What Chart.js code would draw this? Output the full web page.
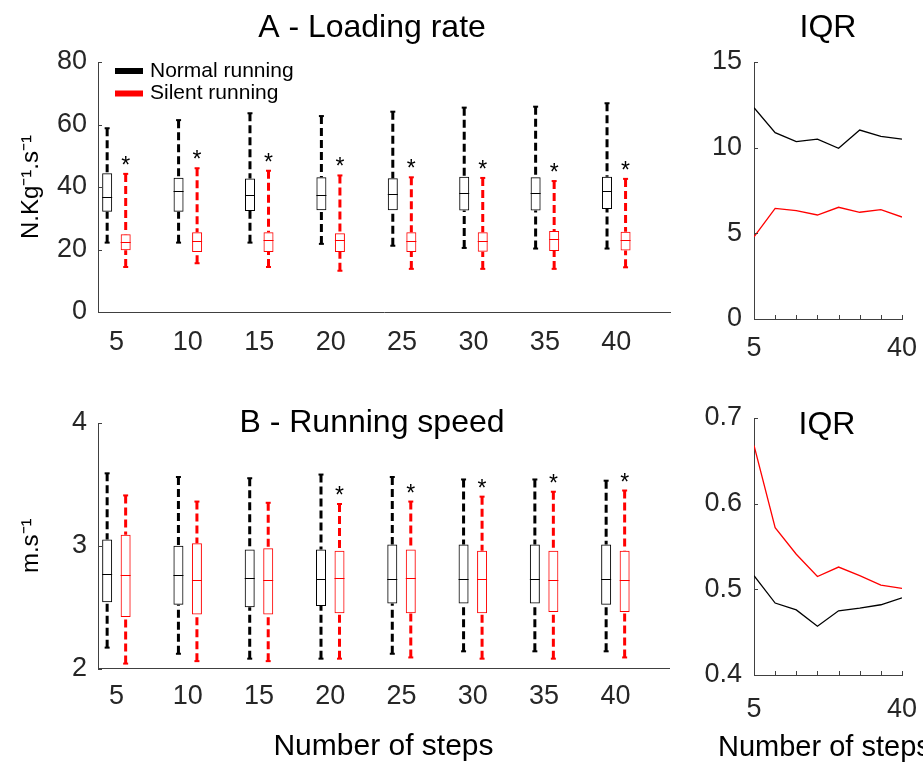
<!DOCTYPE html>
<html>
<head>
<meta charset="utf-8">
<script src="https://cdn.jsdelivr.net/npm/chart.js@4.4.0/dist/chart.umd.min.js"></script>
<style>
  body { margin: 0; background: #fff; }
  #wrap { position: relative; width: 923px; height: 767px; overflow: hidden; background: #fff; }
  canvas { position: absolute; }
</style>
</head>
<body>
<div id="wrap">
  <canvas id="loadBox" width="690" height="375" style="left:0;top:0"></canvas>
  <canvas id="loadIqr" width="260" height="375" style="left:690px;top:0"></canvas>
  <canvas id="speedBox" width="690" height="392" style="left:0;top:375px"></canvas>
  <canvas id="speedIqr" width="260" height="392" style="left:690px;top:375px"></canvas>
</div>
<script>
const steps = [5, 10, 15, 20, 25, 30, 35, 40];

// loading rate (N.Kg-1.s-1): whisker ends, quartiles, median
const normLoadMin = [22.2, 22.2, 22.2, 21.8, 21.2, 20.5, 20.3, 20.3];
const normLoadQ1  = [32.1, 32.1, 32.3, 32.6, 32.6, 32.5, 32.5, 33.0];
const normLoadMed = [36.7, 38.8, 37.4, 37.4, 37.7, 38.0, 38.2, 38.7];
const normLoadQ3  = [44.4, 43.0, 42.7, 43.1, 42.8, 43.3, 43.1, 43.3];
const normLoadMax = [58.8, 61.4, 63.6, 62.7, 64.1, 65.4, 65.7, 66.8];

const silLoadMin = [14.4, 15.6, 14.4, 13.2, 13.8, 13.8, 13.8, 14.3];
const silLoadQ1  = [19.8, 19.2, 19.2, 19.2, 19.2, 19.3, 19.5, 19.7];
const silLoadMed = [22.3, 22.7, 23.0, 23.0, 22.7, 22.8, 23.3, 23.0];
const silLoadQ3  = [24.9, 25.5, 25.5, 25.2, 25.5, 25.5, 25.9, 25.7];
const silLoadMax = [44.2, 46.0, 45.2, 43.7, 43.1, 42.9, 41.9, 42.6];
const sigLoad    = [1, 1, 1, 1, 1, 1, 1, 1];

// running speed (m.s-1)
const normSpdMin = [2.17, 2.12, 2.08, 2.08, 2.12, 2.14, 2.14, 2.14];
const normSpdQ1  = [2.54, 2.52, 2.50, 2.51, 2.53, 2.53, 2.53, 2.52];
const normSpdMed = [2.77, 2.76, 2.74, 2.73, 2.73, 2.73, 2.73, 2.73];
const normSpdQ3  = [3.05, 3.00, 2.97, 2.97, 3.01, 3.01, 3.01, 3.01];
const normSpdMax = [3.59, 3.56, 3.55, 3.58, 3.56, 3.54, 3.54, 3.53];

const silSpdMin = [2.04, 2.06, 2.06, 2.08, 2.09, 2.08, 2.08, 2.09];
const silSpdQ1  = [2.42, 2.44, 2.44, 2.45, 2.45, 2.45, 2.46, 2.46];
const silSpdMed = [2.76, 2.72, 2.72, 2.74, 2.74, 2.73, 2.72, 2.72];
const silSpdQ3  = [3.09, 3.02, 2.98, 2.96, 2.97, 2.96, 2.96, 2.96];
const silSpdMax = [3.41, 3.36, 3.35, 3.34, 3.36, 3.40, 3.44, 3.45];
const sigSpd    = [0, 0, 0, 1, 1, 1, 1, 1];

// interquartile ranges
const normLoadIqr = [12.33, 10.88, 10.35, 10.5, 9.96, 11.03, 10.66, 10.5];
const silLoadIqr  = [4.8, 6.46, 6.32, 6.07, 6.52, 6.23, 6.38, 5.95];
const normSpdIqr  = [0.516, 0.484, 0.476, 0.457, 0.475, 0.478, 0.482, 0.490];
const silSpdIqr   = [0.668, 0.572, 0.541, 0.515, 0.526, 0.516, 0.505, 0.501];

const FONT = "'Liberation Sans', Arial, sans-serif";
const axisColor = '#404040';
const BLACK = '#000000', RED = '#ff0000';
const TICK = 27;

Chart.defaults.font.family = FONT;
Chart.defaults.color = '#262626';
Chart.defaults.animation = false;
Chart.defaults.responsive = false;
Chart.defaults.plugins.legend.display = false;
Chart.defaults.plugins.tooltip.enabled = false;

function line(ctx, x1, y1, x2, y2) {
  ctx.beginPath(); ctx.moveTo(x1, y1); ctx.lineTo(x2, y2); ctx.stroke();
}

// whiskers, medians and significance stars around the floating bars
const boxPlot = {
  id: 'boxPlot',
  beforeDatasetsDraw(chart) {
    const ctx = chart.ctx, ys = chart.scales.y;
    chart.data.datasets.forEach((ds, i) => {
      chart.getDatasetMeta(i).data.forEach((bar, j) => {
        const x = bar.x;
        const top = ys.getPixelForValue(ds.hi[j]), q3 = ys.getPixelForValue(ds.data[j].y[1]);
        const bot = ys.getPixelForValue(ds.lo[j]), q1 = ys.getPixelForValue(ds.data[j].y[0]);
        ctx.save();
        ctx.strokeStyle = ds.borderColor;
        ctx.lineWidth = 3;
        ctx.setLineDash([8, 4]);
        line(ctx, x, top, x, q3);
        line(ctx, x, bot, x, q1);
        ctx.setLineDash([]);
        ctx.lineWidth = 2;
        line(ctx, x - 2.5, top, x + 2.5, top);
        line(ctx, x - 2.5, bot, x + 2.5, bot);
        ctx.restore();
      });
    });
  },
  afterDatasetsDraw(chart) {
    const ctx = chart.ctx, ys = chart.scales.y;
    chart.data.datasets.forEach((ds, i) => {
      chart.getDatasetMeta(i).data.forEach((bar, j) => {
        const m = Math.round(ys.getPixelForValue(ds.med[j])) + 0.5;
        ctx.save();
        ctx.strokeStyle = ds.borderColor;
        ctx.lineWidth = 1;
        line(ctx, bar.x - bar.width / 2, m, bar.x + bar.width / 2, m);
        if (ds.sig && ds.sig[j]) {
          ctx.fillStyle = '#000';
          ctx.font = '23px ' + FONT;
          ctx.textAlign = 'center';
          ctx.textBaseline = 'alphabetic';
          ctx.fillText('*', bar.x, ys.getPixelForValue(ds.hi[j]) - 1);
        }
        ctx.restore();
      });
    });
  }
};

// legend inside the axes, like matlab
const boxLegend = {
  id: 'boxLegend',
  afterDraw(chart) {
    const ctx = chart.ctx, a = chart.chartArea;
    chart.data.datasets.forEach((ds, i) => {
      const cy = a.top + 9 + i * 22.5;
      ctx.save();
      ctx.fillStyle = ds.borderColor;
      ctx.fillRect(a.left + 17, cy - 3, 28, 6);
      ctx.fillStyle = '#000';
      ctx.font = '21px ' + FONT;
      ctx.textBaseline = 'middle';
      ctx.fillText(ds.label, a.left + 52, cy);
      ctx.restore();
    });
  }
};

// short tick marks pointing into the axes
const inTicks = {
  id: 'inTicks',
  afterDraw(chart, args, opts) {
    const ctx = chart.ctx, a = chart.chartArea;
    ctx.save();
    ctx.strokeStyle = axisColor;
    ctx.lineWidth = 1;
    if (opts.y) {
      const s = chart.scales.y;
      s.ticks.forEach(t => {
        const p = Math.round(s.getPixelForValue(t.value)) + 0.5;
        line(ctx, a.left, p, a.left + 4, p);
      });
    }
    if (opts.x) {
      const s = chart.scales.x;
      s.ticks.forEach(t => {
        const p = Math.round(s.getPixelForValue(t.value)) + 0.5;
        line(ctx, p, a.bottom, p, a.bottom - 4);
      });
    }
    ctx.restore();
  }
};

function texts(items) {
  return {
    id: 'texts',
    afterDraw(chart) {
      const ctx = chart.ctx;
      items.forEach(t => {
        ctx.save();
        ctx.fillStyle = '#000';
        ctx.font = t.size + 'px ' + FONT;
        ctx.textAlign = t.align || 'center';
        ctx.textBaseline = 'alphabetic';
        ctx.fillText(t.text, t.x, t.y);
        ctx.restore();
      });
    }
  };
}

function boxSet(label, color, lo, q1, med, q3, hi, sig) {
  return {
    label: label,
    data: steps.map((s, i) => ({ x: s, y: [q1[i], q3[i]] })),
    lo: lo, hi: hi, med: med, sig: sig,
    borderColor: color,
    backgroundColor: 'rgba(255,255,255,0)',
    borderWidth: 1,
    borderSkipped: false,
    categoryPercentage: 0.519,
    barPercentage: 0.54
  };
}

function boxChart(id, sets, o) {
  return new Chart(document.getElementById(id), {
    type: 'bar',
    data: { datasets: sets },
    options: {
      layout: { padding: o.pad },
      scales: {
        x: {
          type: 'linear', min: 3.71, max: 43.76, offset: false,
          afterBuildTicks: s => { s.ticks = steps.map(v => ({ value: v })); },
          afterFit: s => { s.height = o.xHeight; },
          grid: { drawOnChartArea: false, drawTicks: false, offset: false },
          border: { color: axisColor, width: 1 },
          ticks: { font: { size: TICK }, padding: o.xPad, autoSkip: false, maxRotation: 0 },
          title: o.xTitle || { display: false }
        },
        y: {
          min: o.yMin, max: o.yMax,
          afterFit: s => { s.width = 98; },
          grid: { drawOnChartArea: false, drawTicks: false },
          border: { color: axisColor, width: 1 },
          ticks: { stepSize: o.yStep, font: { size: TICK }, padding: 11 },
          title: { display: true, text: o.yTitle, font: { size: 24 }, color: '#000', padding: { top: 17 } }
        }
      },
      plugins: { inTicks: { y: true } }
    },
    plugins: [boxPlot, inTicks, texts(o.texts)].concat(o.legend ? [boxLegend] : [])
  });
}

function iqrChart(id, norm, sil, o) {
  return new Chart(document.getElementById(id), {
    type: 'line',
    data: {
      datasets: [
        { data: steps.map((s, i) => ({ x: s, y: norm[i] })), borderColor: BLACK, borderWidth: 1.3, pointRadius: 0, tension: 0 },
        { data: steps.map((s, i) => ({ x: s, y: sil[i] })), borderColor: RED, borderWidth: 1.3, pointRadius: 0, tension: 0 }
      ]
    },
    options: {
      layout: { padding: o.pad },
      scales: {
        x: {
          type: 'linear', min: 5, max: 40,
          afterFit: s => { s.height = o.xHeight; },
          grid: { drawOnChartArea: false, drawTicks: false },
          border: { color: axisColor, width: 1 },
          ticks: {
            stepSize: 5, font: { size: TICK }, padding: o.xPad, autoSkip: false, maxRotation: 0, minRotation: 0,
            callback: v => (v === 5 || v === 40) ? String(v) : ''
          }
        },
        y: {
          min: o.yMin, max: o.yMax,
          afterFit: s => { s.width = 64; },
          grid: { drawOnChartArea: false, drawTicks: false },
          border: { color: axisColor, width: 1 },
          ticks: { stepSize: o.yStep, font: { size: TICK }, padding: 12, callback: o.fmt }
        }
      },
      plugins: { inTicks: { x: true, y: true } }
    },
    plugins: [inTicks, texts(o.texts)]
  });
}

boxChart('loadBox', [
  boxSet('Normal running', BLACK, normLoadMin, normLoadQ1, normLoadMed, normLoadQ3, normLoadMax, null),
  boxSet('Silent running', RED, silLoadMin, silLoadQ1, silLoadMed, silLoadQ3, silLoadMax, sigLoad)
], {
  pad: { top: 62, right: 20, left: 0, bottom: 0 }, xHeight: 63, xPad: 14,
  yMin: 0, yMax: 80, yStep: 20, yTitle: 'N.Kg⁻¹.s⁻¹', legend: true,
  texts: [{ text: 'A - Loading rate', x: 372, y: 37, size: 32 }]
});

boxChart('speedBox', [
  boxSet('Normal running', BLACK, normSpdMin, normSpdQ1, normSpdMed, normSpdQ3, normSpdMax, null),
  boxSet('Silent running', RED, silSpdMin, silSpdQ1, silSpdMed, silSpdQ3, silSpdMax, sigSpd)
], {
  pad: { top: 48, right: 21, left: 0, bottom: 0 }, xHeight: 98.5, xPad: 12,
  yMin: 2, yMax: 4, yStep: 1, yTitle: 'm.s⁻¹',
  xTitle: { display: true, text: 'Number of steps', font: { size: 30 }, color: '#000', padding: { bottom: 2 } },
  texts: [{ text: 'B - Running speed', x: 372, y: 57, size: 32 }]
});

// right-hand canvases run past the page edge; the wrapper clips them
iqrChart('loadIqr', normLoadIqr, silLoadIqr, {
  pad: { top: 62, right: 48, left: 0, bottom: 0 }, xHeight: 56, xPad: 13,
  yMin: 0, yMax: 15, yStep: 5, fmt: v => String(v),
  texts: [{ text: 'IQR', x: 138, y: 37, size: 32 }]
});

iqrChart('speedIqr', normSpdIqr, silSpdIqr, {
  pad: { top: 43, right: 48, left: 0, bottom: 0 }, xHeight: 92, xPad: 18,
  yMin: 0.4, yMax: 0.7, yStep: 0.1, fmt: v => v.toFixed(1),
  texts: [
    { text: 'IQR', x: 137, y: 59, size: 32 },
    { text: 'Number of steps', x: 28, y: 381, size: 29, align: 'left' }
  ]
});
</script>
</body>
</html>
